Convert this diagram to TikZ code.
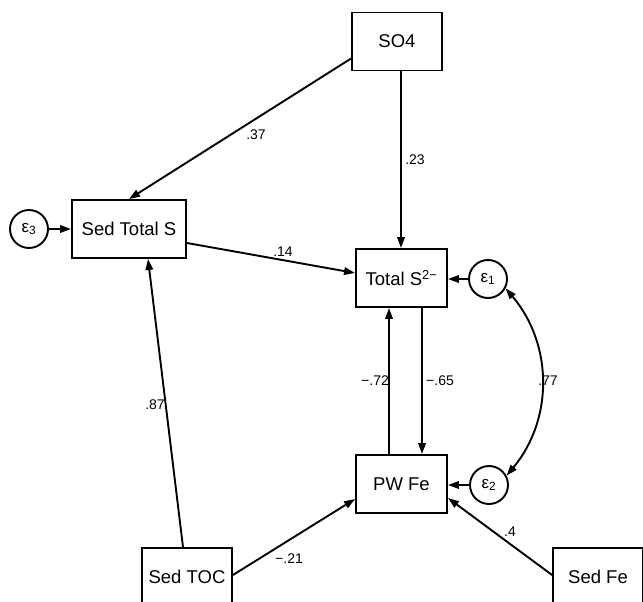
\documentclass[tikz,border=0pt]{standalone}
\usepackage{fontspec}
\setmainfont{Liberation Sans}
\usetikzlibrary{arrows.meta,calc}
\begin{document}
\begin{tikzpicture}[x=1pt,y=-1pt,
  box/.style={draw,line width=1.9pt,minimum height=58pt,inner sep=0pt,font=\fontsize{18.5}{20}\selectfont},
  err/.style={draw,circle,line width=1.9pt,minimum size=38pt,inner sep=0pt,font=\fontsize{17}{19}\selectfont},
  conn/.style={line width=1.9pt,-{Triangle[length=11pt,width=7.5pt]}},
  dconn/.style={line width=1.9pt,{Triangle[length=11pt,width=7.5pt]}-{Triangle[length=11pt,width=7.5pt]}},
  coef/.style={font=\fontsize{14}{16}\selectfont,inner sep=0pt}]
\useasboundingbox (0,0) rectangle (643,602);
\clip (0,0) rectangle (643,602);
% boxes
\node[box,minimum width=90pt] (so4) at (397,41.5) {SO4};
\node[box,minimum width=114pt] (sedS) at (129,229) {Sed Total S};
\node[box,minimum width=91pt] (totS) at (401.5,278) {Total S\textsuperscript{2−}};
\node[box,minimum width=91pt] (pw) at (401.5,484) {PW Fe};
\node[box,minimum width=90pt] (toc) at (187,577) {Sed TOC};
\node[box,minimum width=90pt] (fe) at (598,577) {Sed Fe};
% errors
\node[err] (e1) at (488,279) {ε\textsubscript{1}};
\node[err] (e2) at (489,485) {ε\textsubscript{2}};
\node[err] (e3) at (29,229) {ε\textsubscript{3}};
% connectors
\draw[conn] ([yshift=-17pt]so4.west) -- (sedS.north);
\draw[conn] ([xshift=4pt]so4.south) -- ([xshift=-0.5pt]totS.north);
\draw[conn] ([yshift=-14pt]sedS.east) -- ([yshift=5pt]totS.west);
\draw[conn] ([xshift=-12.5pt]pw.north) -- ([xshift=-12.5pt]totS.south);
\draw[conn] ([xshift=20.5pt]totS.south) -- ([xshift=20.5pt]pw.north);
\draw[conn] (e1.west) -- (e1.west -| totS.east);
\draw[conn] (e2.west) -- (e2.west -| pw.east);
\draw[conn] (e3.east) -- (sedS.west);
\draw[conn] ([yshift=2pt]toc.east) -- ([yshift=-15pt]pw.west);
\draw[conn] ([yshift=2pt]fe.west) -- ([yshift=-14pt]pw.east);
\draw[conn] ([xshift=-4pt]toc.north) -- ([xshift=19pt]sedS.south);
\draw[dconn] (e1.-28) to[bend left=40] (e2.28);
% coefficients
\node[coef] (c1) at (256,135) {.37};
\node[coef] (c2) at (415,160) {.23};
\node[coef] (c3) at (283,252) {.14};
\node[coef] (c4) at (155,405) {.87};
\node[coef] (c5) at (375,381) {−.72};
\node[coef] (c6) at (440,381) {−.65};
\node[coef] (c7) at (548,381) {.77};
\node[coef] (c8) at (289,559) {−.21};
\node[coef] (c9) at (510,532) {.4};
\end{tikzpicture}
\end{document}
